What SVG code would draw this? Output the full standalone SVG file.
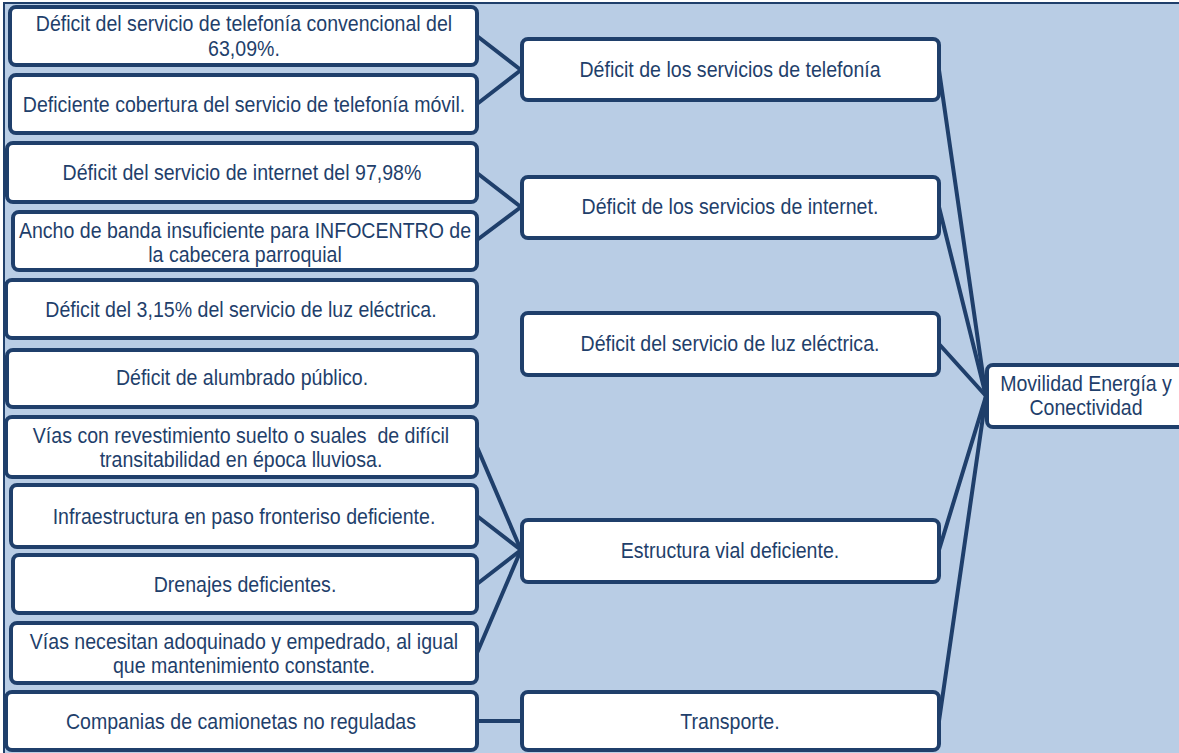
<svg xmlns="http://www.w3.org/2000/svg" width="1179" height="753" viewBox="0 0 1179 753">
<style>
.bg{fill:#B9CDE5;stroke:#1F3F6B;stroke-width:2}
.box{fill:#FFFFFF;stroke:#1F3F6B;stroke-width:4}
.t{font-family:"Liberation Sans",Arial,sans-serif;font-size:21.5px;fill:#1F3F6B;text-anchor:middle;transform-box:fill-box;transform-origin:50% 50%;transform:scaleX(0.91)}
.c{stroke:#1F3F6B;stroke-width:4;fill:none;stroke-linecap:round}
</style>
<rect class="bg" x="4" y="3" width="1185" height="760"/>
<g id="connectors">
<line class="c" x1="477" y1="36" x2="521" y2="70"/>
<line class="c" x1="477" y1="104" x2="521" y2="70"/>
<line class="c" x1="477" y1="173" x2="521" y2="207"/>
<line class="c" x1="477" y1="240" x2="521" y2="207"/>
<line class="c" x1="477" y1="447" x2="521" y2="550"/>
<line class="c" x1="477" y1="516" x2="521" y2="550"/>
<line class="c" x1="477" y1="584" x2="521" y2="550"/>
<line class="c" x1="477" y1="653" x2="521" y2="550"/>
<line class="c" x1="477" y1="721" x2="521" y2="721"/>
<line class="c" x1="939" y1="70" x2="986" y2="396"/>
<line class="c" x1="939" y1="207" x2="986" y2="396"/>
<line class="c" x1="939" y1="344" x2="986" y2="396"/>
<line class="c" x1="939" y1="550" x2="986" y2="396"/>
<line class="c" x1="939" y1="721" x2="986" y2="396"/>
</g>
<g id="n1"><rect class="box" x="10" y="7" width="467" height="58" rx="6"/><text class="t" x="244" y="31">Déficit del servicio de telefonía convencional del</text><text class="t" x="244" y="56">63,09%.</text></g>
<g id="n2"><rect class="box" x="10" y="75" width="467" height="58" rx="6"/><text class="t" x="244" y="112">Deficiente cobertura del servicio de telefonía móvil.</text></g>
<g id="n3"><rect class="box" x="7" y="143" width="470" height="59" rx="6"/><text class="t" x="242" y="180">Déficit del servicio de internet del 97,98%</text></g>
<g id="n4"><rect class="box" x="13" y="212" width="464" height="58" rx="6"/><text class="t" x="245" y="238">Ancho de banda insuficiente para INFOCENTRO de</text><text class="t" x="245" y="262">la cabecera parroquial</text></g>
<g id="n5"><rect class="box" x="6" y="280" width="471" height="58" rx="6"/><text class="t" x="241" y="317">Déficit del 3,15% del servicio de luz eléctrica.</text></g>
<g id="n6"><rect class="box" x="7" y="350" width="470" height="57" rx="6"/><text class="t" x="242" y="385">Déficit de alumbrado público.</text></g>
<g id="n7"><rect class="box" x="6" y="417" width="471" height="60" rx="6"/><text class="t" x="241" y="443" xml:space="preserve">Vías con revestimiento suelto o suales  de difícil</text><text class="t" x="241" y="467">transitabilidad en época lluviosa.</text></g>
<g id="n8"><rect class="box" x="11" y="485" width="466" height="62" rx="6"/><text class="t" x="244" y="524">Infraestructura en paso fronteriso deficiente.</text></g>
<g id="n9"><rect class="box" x="13" y="555" width="464" height="58" rx="6"/><text class="t" x="245" y="592">Drenajes deficientes.</text></g>
<g id="n10"><rect class="box" x="11" y="623" width="466" height="60" rx="6"/><text class="t" x="244" y="649">Vías necesitan adoquinado y empedrado, al igual</text><text class="t" x="244" y="673">que mantenimiento constante.</text></g>
<g id="n11"><rect class="box" x="6" y="692" width="471" height="58" rx="6"/><text class="t" x="241" y="729">Companias de camionetas no reguladas</text></g>
<g id="m1"><rect class="box" x="522" y="39" width="417" height="61" rx="6"/><text class="t" x="730" y="77">Déficit de los servicios de telefonía</text></g>
<g id="m2"><rect class="box" x="522" y="177" width="417" height="61" rx="6"/><text class="t" x="730" y="214">Déficit de los servicios de internet.</text></g>
<g id="m3"><rect class="box" x="522" y="313" width="417" height="62" rx="6"/><text class="t" x="730" y="351">Déficit del servicio de luz eléctrica.</text></g>
<g id="m4"><rect class="box" x="522" y="520" width="417" height="62" rx="6"/><text class="t" x="730" y="558">Estructura vial deficiente.</text></g>
<g id="m5"><rect class="box" x="522" y="692" width="417" height="58" rx="6"/><text class="t" x="730" y="729">Transporte.</text></g>
<g id="root"><rect class="box" x="987" y="365" width="210" height="62" rx="6"/><text class="t" x="1086" y="391">Movilidad Energía y</text><text class="t" x="1086" y="415">Conectividad</text></g>
</svg>
